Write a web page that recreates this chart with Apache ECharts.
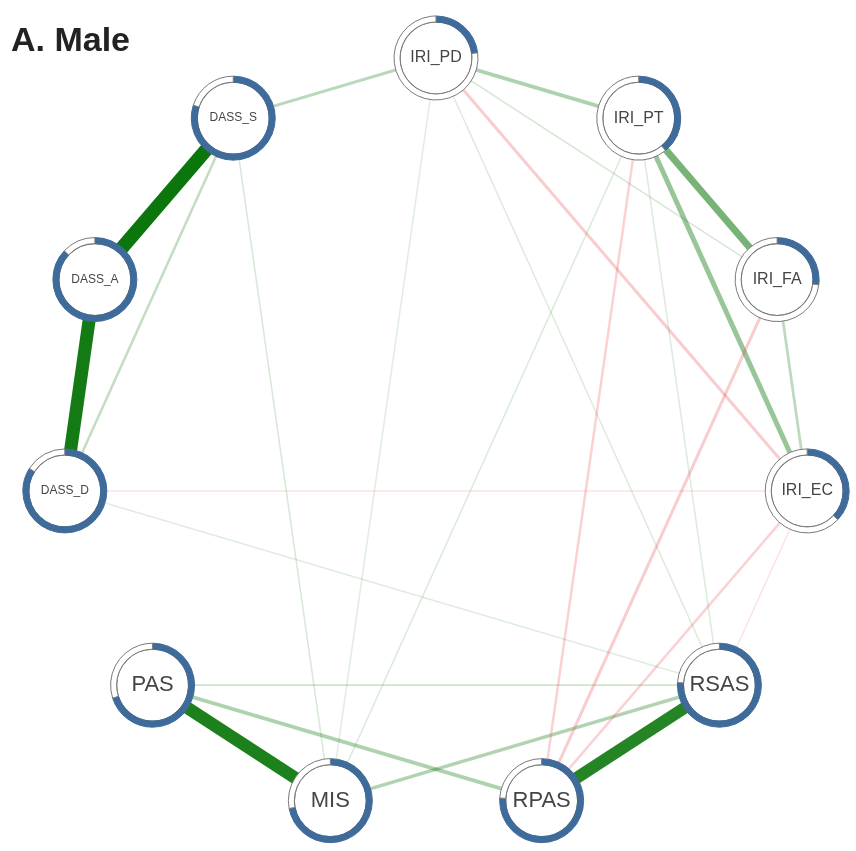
<!DOCTYPE html>
<html>
<head>
<meta charset="utf-8">
<script src="https://cdn.jsdelivr.net/npm/echarts@6/dist/echarts.min.js"></script>
<style>
  html, body { margin: 0; padding: 0; background: #fff; }
  #chart { width: 856px; height: 851px; }
</style>
</head>
<body>
<div id="chart"></div>
<script>
// nodes, clockwise from the top
const nodeNames = ['IRI_PD', 'IRI_PT', 'IRI_FA', 'IRI_EC', 'RSAS', 'RPAS', 'MIS', 'PAS', 'DASS_D', 'DASS_A', 'DASS_S'];
// predictability (blue ring share)
const predictability = [0.23, 0.39, 0.27, 0.37, 0.76, 0.76, 0.72, 0.70, 0.84, 0.87, 0.80];

// edges (partial correlations)
const edgeFrom = ['DASS_S', 'DASS_A', 'PAS', 'RSAS', 'IRI_PT', 'IRI_PT', 'IRI_PD', 'PAS', 'RSAS', 'DASS_S', 'DASS_S', 'IRI_FA', 'PAS',
  'IRI_PD', 'IRI_FA', 'IRI_PT', 'IRI_EC', 'IRI_EC', 'IRI_EC', 'DASS_S', 'IRI_PD', 'MIS', 'IRI_PD', 'DASS_D', 'IRI_PD', 'IRI_PT'];
const edgeTo = ['DASS_A', 'DASS_D', 'MIS', 'RPAS', 'IRI_FA', 'IRI_EC', 'IRI_PT', 'RPAS', 'MIS', 'IRI_PD', 'DASS_D', 'IRI_EC', 'RSAS',
  'IRI_EC', 'RPAS', 'RPAS', 'RPAS', 'RSAS', 'DASS_D', 'MIS', 'RSAS', 'IRI_PT', 'IRI_FA', 'RSAS', 'MIS', 'RSAS'];
const edgeWeight = [0.55, 0.52, 0.50, 0.48, 0.28, 0.20, 0.15, 0.15, 0.14, 0.12, 0.10, 0.11, 0.07,
  -0.12, -0.12, -0.10, -0.10, -0.05, -0.05, 0.05, 0.04, 0.04, 0.05, 0.03, 0.03, 0.04];

// circle layout (like qgraph 'circle')
const cx = 436, cy = 437, rx = 375, ry = 379;
const pos = nodeNames.map((n, i) => {
  const a = 2 * Math.PI * i / nodeNames.length;
  return [cx + rx * Math.sin(a), cy - ry * Math.cos(a)];
});

function labelSize(n) {
  if (n.indexOf('DASS') === 0) return 12;
  if (n.indexOf('IRI') === 0) return 16;
  return 22;
}

const nodes = nodeNames.map((n, i) => ({
  name: n,
  value: pos[i],
  label: { fontSize: labelSize(n) }
}));

const links = edgeFrom.map((s, i) => {
  const w = edgeWeight[i];
  const aw = Math.abs(w);
  return {
    source: s,
    target: edgeTo[i],
    lineStyle: {
      width: Math.max(1.5, 25 * aw),
      color: w > 0 ? '#0b760b' : '#ea4a50',
      opacity: Math.min(1, 0.08 + 1.7 * aw)
    }
  };
});

const ringSeries = nodeNames.map((n, i) => ({
  type: 'pie',
  z: 5,
  silent: true,
  animation: false,
  center: pos[i],
  radius: [36, 42],
  startAngle: 90,
  clockwise: true,
  label: { show: false },
  labelLine: { show: false },
  itemStyle: { borderColor: '#7a7a7a', borderWidth: 1 },
  data: [
    { value: predictability[i], itemStyle: { color: '#3f6b9b', borderColor: '#3f6b9b' } },
    { value: 1 - predictability[i], itemStyle: { color: '#ffffff' } }
  ]
}));

const chart = echarts.init(document.getElementById('chart'));
chart.setOption({
  backgroundColor: '#fff',
  animation: false,
  title: {
    text: 'A. Male',
    left: 6,
    top: 20,
    textStyle: { fontFamily: 'Liberation Sans', fontWeight: 'bold', fontSize: 34, color: '#222' }
  },
  grid: { left: 0, right: 0, top: 0, bottom: 0 },
  xAxis: { type: 'value', min: 0, max: 856, show: false },
  yAxis: { type: 'value', min: 0, max: 851, inverse: true, show: false },
  series: [{
    type: 'graph',
    layout: 'none',
    coordinateSystem: 'cartesian2d',
    z: 2,
    symbol: 'circle',
    symbolSize: 72,
    itemStyle: { color: '#fff', borderColor: '#6a6a6a', borderWidth: 1.2 },
    label: { show: true, position: 'inside', color: '#454545', fontFamily: 'Liberation Sans' },
    lineStyle: { curveness: 0 },
    data: nodes,
    links: links
  }].concat(ringSeries)
});
</script>
</body>
</html>
